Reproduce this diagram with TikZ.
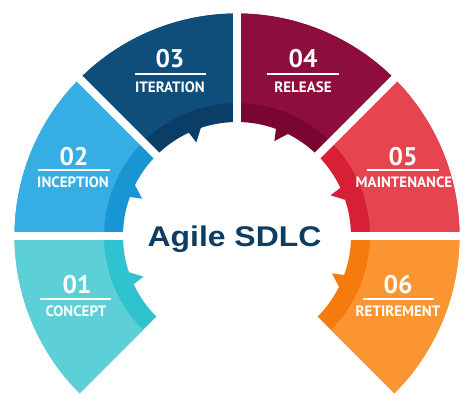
\documentclass[tikz,border=0pt]{standalone}
\usepackage{fontspec}
\setmainfont{Liberation Sans}
\newfontfamily\ptsans{PT Sans}
\definecolor{c1l}{HTML}{5DCFD7}
\definecolor{c1d}{HTML}{2EC3CE}
\definecolor{c2l}{HTML}{36ADE3}
\definecolor{c2d}{HTML}{1896D3}
\definecolor{c3l}{HTML}{0F4D7B}
\definecolor{c3d}{HTML}{0A3E66}
\definecolor{c4l}{HTML}{8D0E3C}
\definecolor{c4d}{HTML}{790631}
\definecolor{c5l}{HTML}{E6444F}
\definecolor{c5d}{HTML}{D71F35}
\definecolor{c6l}{HTML}{FB9531}
\definecolor{c6d}{HTML}{F67B0E}
\definecolor{titlecol}{HTML}{0F3D62}
\newcommand\agileseg[4]{%
  \pgfmathsetmacro\segm{(#1+#2)/2}%
  \pgfmathsetmacro\ta{\segm-4}%
  \pgfmathsetmacro\tb{\segm+1}%
  \pgfmathsetmacro\tc{\segm+2.5}%
  \fill[#4] (#2:222.5) arc[start angle=#2,end angle=#1,radius=222.5]
    -- (#1:114) arc[start angle=#1,end angle=\ta,radius=114]
    -- (\tb:102) -- (\tc:114) arc[start angle=\tc,end angle=#2,radius=114] -- cycle;
  \fill[#3] (#2:222.5) arc[start angle=#2,end angle=#1,radius=222.5]
    -- (#1:133) arc[start angle=#1,end angle=#2,radius=133] -- cycle;
}
\begin{document}
\begin{tikzpicture}[x=1pt,y=1pt,
  num/.style={text=white,anchor=base,inner sep=0pt,font=\ptsans\bfseries\fontsize{25.5}{25.5}\selectfont},
  lab/.style={text=white,anchor=base,inner sep=0pt,font=\ptsans\bfseries\fontsize{15}{15}\selectfont},
  uline/.style={white,line width=2pt},
  gap/.style={white,line width=8pt}]
\useasboundingbox (-237,-165) rectangle (237,236);
\fill[white] (-237,-165) rectangle (237,236);
\agileseg{180}{225}{c1l}{c1d}
\agileseg{135}{180}{c2l}{c2d}
\agileseg{90}{135}{c3l}{c3d}
\agileseg{45}{90}{c4l}{c4d}
\agileseg{0}{45}{c5l}{c5d}
\agileseg{-45}{0}{c6l}{c6d}
\foreach \a in {0,45,90,135,180} \draw[gap] (0,0) -- (\a:240);
% labels
\node[num] (n3) at (-67,168.5) {03};
\draw[uline] (-102,162) -- (-31,162);
\node[lab] (l3) at (-67,143.5) {ITERATION};
\node[num] (n4) at (66,168.5) {04};
\draw[uline] (30,162) -- (102,162);
\node[lab] (l4) at (66,143.5) {RELEASE};
\node[num] (n2) at (-163,70.5) {02};
\draw[uline] (-199,66) -- (-127,66);
\node[lab] (l2) at (-164,48.5) {INCEPTION};
\node[num] (n5) at (166,70.5) {05};
\draw[uline] (130,66) -- (202,66);
\node[lab] (l5) at (167,48.5) {MAINTENANCE};
\node[num] (n1) at (-160,-57.5) {01};
\draw[uline] (-197,-63) -- (-126,-63);
\node[lab] (l1) at (-161,-80.5) {CONCEPT};
\node[num] (n6) at (161,-57.5) {06};
\draw[uline] (126,-63) -- (197,-63);
\node[lab] (l6) at (161,-80.5) {RETIREMENT};
\node[anchor=base,inner sep=0pt,text=titlecol,xscale=1.12,font=\bfseries\fontsize{28.5}{28.5}\selectfont] (title) at (-2.5,-10.7) {Agile SDLC};
\end{tikzpicture}
\end{document}
